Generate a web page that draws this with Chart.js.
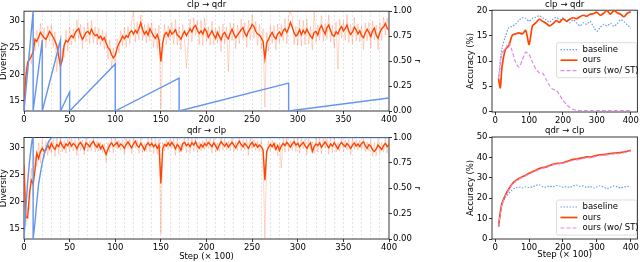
<!DOCTYPE html>
<html>
<head>
<meta charset="utf-8">
<script src="https://cdn.jsdelivr.net/npm/chart.js@4.4.1/dist/chart.umd.min.js"></script>
<style>
  html, body { margin: 0; padding: 0; background: #fff; width: 640px; height: 262px; overflow: hidden; }
  canvas { position: absolute; }
</style>
</head>
<body>
<canvas id="divTop" width="430" height="126" style="left:0;top:0"></canvas>
<canvas id="divBot" width="430" height="136" style="left:0;top:126px"></canvas>
<canvas id="accTop" width="180" height="126" style="left:460px;top:0"></canvas>
<canvas id="accBot" width="180" height="136" style="left:460px;top:126px"></canvas>
<script>
// diversity curves, one value every 2 steps (x 100)
const divSteps = Array.from({ length: 201 }, (_, i) => i * 2);

const divTopLine = [
  14.3, 19.5, 22.3, 22.8, 23.4, 24.2, 26.6, 26.2, 27.0, 27.9,
  27.4, 26.9, 26.6, 27.3, 28.1, 27.6, 27.0, 26.3, 25.4, 23.4,
  21.6, 22.8, 25.5, 26.4, 26.1, 26.8, 27.3, 26.9, 27.8, 28.3,
  28.6, 27.4, 26.6, 27.2, 27.9, 28.1, 27.6, 28.5, 27.7, 27.3,
  27.5, 26.8, 27.2, 26.5, 26.9, 25.9, 25.1, 24.6, 23.7, 23.1,
  23.6, 24.9, 25.8, 26.4, 27.2, 26.7, 27.3, 27.0, 27.9, 28.2,
  27.6, 28.3, 27.8, 28.7, 29.7, 28.4, 27.6, 28.1, 27.4, 28.6,
  27.9, 27.2, 26.8, 27.5, 26.4, 22.4, 26.0, 27.5, 27.9, 27.2,
  28.3, 27.6, 27.9, 28.4, 27.4, 27.1, 26.6, 27.5, 28.1, 27.3,
  27.9, 28.6, 28.0, 28.9, 29.2, 28.3, 27.7, 28.2, 27.6, 28.6,
  28.1, 27.0, 27.6, 28.2, 27.4, 26.8, 27.9, 27.2, 26.5, 27.6,
  27.9, 27.1, 26.7, 27.8, 28.5, 27.6, 26.9, 27.4, 27.9, 28.4,
  28.8, 27.7, 27.2, 28.1, 28.6, 29.4, 29.0, 28.1, 27.6, 27.4,
  26.9, 26.2, 23.0, 25.9, 26.6, 27.4, 27.9, 27.1, 26.7, 27.6,
  28.0, 27.3, 28.2, 28.6, 27.9, 28.7, 29.8, 28.9, 27.8, 27.2,
  27.6, 28.4, 27.5, 28.3, 27.7, 28.5, 27.8, 27.2, 26.8, 27.9,
  28.1, 27.4, 28.6, 29.2, 28.3, 27.6, 28.8, 29.3, 28.2, 27.4,
  27.2, 28.0, 27.6, 28.5, 29.0, 28.2, 28.6, 29.3, 28.1, 27.5,
  28.0, 28.9, 28.4, 27.6, 28.2, 27.3, 26.9, 27.8, 28.5, 27.9,
  27.1, 28.2, 28.7, 27.4, 26.8, 27.9, 28.6, 28.9, 29.6, 28.7,
  28.3
];
const divTopRaw = [
  13.5, 21.5, 20.8, 24.6, 21.9, 25.8, 24.4, 28.3, 25.2, 29.6,
  25.6, 28.7, 24.9, 29.1, 26.2, 29.3, 25.1, 28.0, 20.5, 25.8,
  18.6, 24.9, 23.2, 28.3, 24.4, 28.9, 25.5, 28.6, 26.1, 30.2,
  26.7, 29.4, 24.8, 28.9, 26.1, 29.8, 25.8, 30.1, 25.9, 29.0,
  25.6, 28.7, 25.4, 28.3, 24.7, 27.8, 22.9, 26.5, 21.2, 25.0,
  20.8, 26.7, 24.0, 28.2, 25.4, 28.9, 25.1, 29.0, 25.8, 30.1,
  31.9, 26.1, 29.9, 26.5, 31.2, 26.4, 29.4, 25.9, 29.6, 26.3,
  29.8, 25.1, 28.7, 24.8, 29.3, 13.5, 24.0, 29.4, 25.6, 29.1,
  26.4, 29.8, 25.7, 30.3, 25.5, 29.0, 24.6, 29.4, 26.0, 21.2,
  26.0, 30.4, 26.1, 30.7, 27.3, 30.1, 25.6, 30.2, 25.4, 30.6,
  26.2, 29.0, 25.5, 30.0, 25.6, 28.7, 25.9, 29.1, 24.3, 29.5,
  25.8, 29.0, 20.6, 29.7, 26.4, 29.6, 24.8, 29.3, 25.8, 30.4,
  26.6, 29.8, 25.1, 30.2, 26.5, 31.3, 26.8, 30.0, 25.5, 29.4,
  24.8, 28.6, 13.8, 27.9, 24.4, 29.3, 25.8, 29.2, 24.6, 29.5,
  25.9, 29.4, 26.3, 30.5, 25.8, 30.8, 31.8, 30.9, 25.6, 29.1,
  25.4, 30.3, 25.3, 30.2, 25.6, 30.4, 25.7, 29.1, 24.6, 31.9,
  26.0, 29.3, 26.4, 31.1, 26.2, 29.5, 26.6, 31.2, 26.1, 29.3,
  25.0, 29.9, 21.0, 30.4, 26.9, 30.1, 26.4, 31.3, 26.0, 29.4,
  25.8, 30.8, 26.3, 29.5, 26.1, 29.2, 24.7, 29.7, 26.3, 29.8,
  24.9, 30.1, 26.5, 29.3, 24.6, 29.8, 26.4, 30.8, 27.4, 30.6,
  26.9
];
const divBotLine = [
  26.9, 17.2, 17.0, 21.5, 24.0, 23.3, 25.8, 29.0, 28.0, 29.3,
  29.9, 29.4, 29.6, 30.5, 29.8, 30.8, 30.1, 29.7, 30.6, 30.2,
  31.1, 30.4, 29.9, 30.7, 30.4, 31.0, 30.3, 30.8, 30.5, 29.8,
  30.6, 31.0, 30.4, 29.7, 30.9, 30.6, 30.2, 30.8, 31.2, 30.5,
  30.1, 30.7, 29.8, 30.4, 29.6, 28.8, 29.7, 30.5, 30.9, 30.3,
  30.6, 31.0, 30.2, 30.7, 30.4, 29.9, 30.6, 31.1, 30.5, 30.0,
  30.7, 31.2, 30.4, 30.1, 30.8, 30.3, 29.6, 30.5, 30.9, 30.4,
  30.8, 30.2, 30.6, 29.9, 30.5, 23.4, 29.8, 30.6, 30.3, 30.9,
  30.4, 31.0, 30.5, 29.8, 30.6, 30.2, 29.5, 30.8, 31.0, 30.4,
  30.7, 30.2, 30.9, 30.5, 31.1, 30.3, 29.9, 30.6, 30.1, 30.8,
  30.4, 31.0, 30.6, 30.2, 30.9, 30.4, 29.7, 30.5, 31.1, 30.7,
  30.3, 30.8, 30.1, 30.6, 31.0, 30.5, 30.0, 30.7, 31.2, 30.6,
  30.2, 30.8, 30.4, 29.9, 30.6, 31.0, 30.3, 30.7, 30.1, 30.5,
  30.2, 29.6, 24.0, 29.3, 30.1, 30.6, 30.2, 30.8, 29.7, 30.4,
  29.5, 30.3, 30.8, 30.4, 31.0, 30.6, 30.1, 30.7, 31.1, 30.5,
  30.8, 30.2, 30.6, 31.0, 30.4, 29.9, 30.5, 30.9, 29.3, 30.2,
  30.7, 30.4, 30.9, 30.1, 30.6, 31.1, 30.5, 30.0, 30.7, 30.3,
  30.9, 30.4, 29.8, 30.6, 31.0, 30.5, 30.2, 30.8, 30.4, 29.9,
  30.5, 30.9, 30.3, 30.7, 30.2, 30.8, 31.1, 30.4, 29.9, 30.6,
  30.3, 29.6, 29.3, 29.8, 30.5, 30.1, 29.7, 30.4, 30.8, 30.2,
  30.6
];
const divBotRaw = [
  27.8, 15.5, 19.0, 18.6, 26.2, 21.0, 28.4, 26.5, 30.9, 27.2,
  31.4, 28.0, 31.2, 28.6, 31.5, 29.0, 31.6, 28.4, 31.8, 28.9,
  31.9, 29.2, 31.3, 29.0, 31.6, 29.3, 31.7, 29.4, 31.5, 28.6,
  31.8, 29.5, 31.4, 28.7, 31.8, 29.4, 31.3, 29.5, 31.9, 29.2,
  31.3, 29.4, 31.0, 29.1, 30.8, 27.3, 30.9, 29.2, 31.8, 29.1,
  31.7, 29.8, 31.4, 29.5, 31.5, 28.8, 31.7, 29.9, 31.6, 28.9,
  31.8, 30.0, 31.5, 29.0, 31.9, 29.1, 30.8, 29.3, 31.9, 29.2,
  31.9, 29.0, 31.7, 28.8, 31.6, 14.0, 31.0, 29.4, 31.5, 29.7,
  31.6, 29.8, 31.7, 28.6, 31.8, 29.0, 30.7, 29.6, 31.9, 29.1,
  31.8, 29.0, 31.9, 29.3, 31.9, 29.1, 31.1, 29.4, 31.3, 29.6,
  31.6, 29.8, 31.8, 29.0, 31.9, 29.2, 30.9, 29.3, 31.9, 29.5,
  31.5, 29.6, 31.2, 29.4, 31.9, 29.3, 31.1, 29.5, 31.9, 29.4,
  31.4, 29.6, 31.6, 28.7, 31.8, 29.8, 31.5, 29.5, 31.3, 29.3,
  31.4, 28.4, 13.2, 28.2, 31.3, 29.4, 31.4, 29.6, 31.0, 28.6,
  30.8, 26.2, 31.9, 29.2, 31.9, 29.4, 31.3, 29.5, 31.9, 29.3,
  31.9, 29.0, 31.8, 29.8, 31.6, 28.7, 31.7, 29.7, 31.1, 28.9,
  31.9, 29.2, 31.9, 28.9, 31.8, 29.9, 31.7, 28.8, 31.9, 29.1,
  31.9, 29.2, 31.0, 29.4, 31.9, 29.3, 31.4, 29.6, 31.6, 28.7,
  31.7, 29.7, 31.5, 29.5, 31.4, 29.6, 31.9, 29.2, 31.1, 29.4,
  31.5, 28.4, 30.9, 28.5, 31.7, 28.9, 31.0, 29.2, 31.9, 29.0,
  31.4
];

// r schedule (right axis)
const rTopSteps = [0, 10, 10, 20, 20, 40, 40, 50, 50, 100, 100, 170, 170, 290, 290, 400];
const rTopValues = [0, 1, 0, 0.71, 0, 0.71, 0, 0.19, 0, 0.47, 0, 0.33, 0, 0.28, 0, 0.13];
const rBotSteps = [0, 2, 4, 6, 8, 9, 10, 10, 12, 14, 16, 18, 20, 22, 24, 27, 30, 400];
const rBotValues = [0, 0.3, 0.56, 0.76, 0.92, 0.98, 1, 0, 0.16, 0.36, 0.54, 0.65, 0.75, 0.83, 0.89, 0.96, 1, 1];

// accuracy curves
const accSteps = [10, 15, 20, 30, 40, 50, 60, 70, 80, 90, 100, 110, 120, 130, 140, 150, 160, 170, 180, 190, 200,
  210, 220, 230, 240, 250, 260, 270, 280, 290, 300, 310, 320, 330, 340, 350, 360, 370, 380, 390, 400];
const accTopBaseline = [6.5, 10.2, 12.6, 14.9, 16.6, 16.9, 17.3, 18.1, 18.6, 18.5, 17.9, 18.5, 18.7, 19.0, 18.6, 18.2,
  17.7, 18.3, 18.7, 18.2, 18.6, 18.0, 17.6, 18.2, 17.6, 17.0, 17.6, 17.3, 17.9, 16.8, 15.9, 16.7, 17.3, 17.0, 17.5,
  16.9, 17.4, 18.2, 17.8, 17.2, 16.5];
const accTopOurs = [6.5, 4.7, 8.8, 12.3, 13.0, 15.1, 15.4, 15.6, 15.4, 16.1, 13.3, 17.0, 17.6, 18.3, 17.9, 17.5,
  17.0, 17.4, 18.0, 17.7, 18.4, 17.9, 18.3, 18.6, 18.4, 18.8, 19.1, 18.9, 19.3, 19.4, 19.7, 19.1, 19.5, 20.0, 19.3,
  20.0, 19.6, 19.3, 18.8, 19.5, 19.8];
const accTopNoST = [6.8, 9.0, 11.6, 12.4, 13.6, 12.0, 9.8, 8.8, 10.2, 11.8, 11.3, 9.8, 8.4, 7.7, 7.6, 6.4, 5.2, 4.4,
  4.2, 3.3, 2.2, 1.4, 0.8, 0.4, 0.25, 0.2, 0.2, 0.2, 0.2, 0.2, 0.2, 0.2, 0.2, 0.2, 0.2, 0.2, 0.2, 0.2, 0.2, 0.2, 0.2];
const accBotBaseline = [6.0, 12.4, 16.8, 20.3, 22.4, 24.1, 25.0, 25.5, 25.0, 25.6, 25.2, 25.6, 26.3, 26.6, 25.7, 25.4,
  26.0, 25.6, 26.1, 26.0, 25.3, 25.7, 25.3, 26.0, 26.4, 25.8, 26.0, 25.3, 25.8, 25.0, 25.6, 26.1, 25.4, 24.8, 25.3,
  26.0, 25.6, 25.0, 25.5, 25.8, 25.6];
const accBotOurs = [6.2, 13.0, 17.5, 21.5, 24.5, 27.0, 28.6, 29.7, 30.5, 31.3, 32.2, 33.0, 33.7, 34.5, 35.0, 35.3,
  36.0, 36.6, 37.0, 37.1, 37.4, 38.0, 38.5, 39.0, 39.2, 39.5, 39.9, 40.3, 40.2, 40.5, 41.0, 41.3, 41.4, 41.6, 41.9,
  42.1, 42.2, 42.4, 42.6, 43.0, 43.5];
const accBotNoST = [6.0, 12.6, 17.0, 21.0, 24.0, 26.6, 28.2, 29.4, 30.2, 31.0, 31.8, 32.6, 33.3, 34.1, 34.7, 35.0,
  35.7, 36.3, 36.7, 36.9, 37.1, 37.6, 38.1, 38.6, 38.8, 39.1, 39.5, 39.9, 39.8, 40.1, 40.6, 40.9, 41.0, 41.2, 41.5,
  41.7, 41.8, 42.0, 42.3, 42.7, 43.2];

// tick labels
const stepTicks = [0, 50, 100, 150, 200, 250, 300, 350, 400];
const markSteps = [10, 20, 30, 40, 60, 70, 80, 90, 110, 120, 130, 140, 160, 170, 180, 190, 210, 220, 230, 240,
  260, 270, 280, 290, 310, 320, 330, 340, 360, 370, 380, 390, 50, 100, 150, 200, 250, 300, 350];
const divTicks = [15, 20, 25, 30];
const rTicks = [0, 0.25, 0.5, 0.75, 1];
const accStepTicks = [0, 100, 200, 300, 400];
const accTopTicks = [0, 5, 10, 15, 20];
const accBotTicks = [0, 10, 20, 30, 40, 50];

Chart.defaults.font.family = '"DejaVu Sans", sans-serif';
Chart.defaults.font.size = 8.5;
Chart.defaults.color = '#000';

const pts = (xs, ys) => xs.map((x, i) => ({ x: x, y: ys[i] }));
const fixTicks = list => s => { s.ticks = list.map(v => ({ value: v })); };
const tickMarks = { display: true, drawOnChartArea: false, drawTicks: true, tickLength: 3, tickColor: '#000', tickWidth: 0.8 };

const frame = {
  id: 'frame',
  beforeDatasetsDraw(chart) {
    const { ctx, chartArea: a } = chart;
    ctx.save();
    ctx.strokeStyle = '#222';
    ctx.lineWidth = 0.9;
    ctx.strokeRect(a.left, a.top, a.right - a.left, a.bottom - a.top);
    ctx.restore();
  }
};

const boxLegend = {
  id: 'boxLegend',
  afterDraw(chart, args, opts) {
    const { ctx, chartArea: a } = chart;
    const x = a.left + opts.left, y = a.top + opts.top;
    ctx.save();
    ctx.fillStyle = 'rgba(255,255,255,0.85)';
    ctx.strokeStyle = '#d4d4d4';
    ctx.lineWidth = 0.8;
    ctx.beginPath();
    ctx.roundRect(x, y, 80, 35, 2);
    ctx.fill();
    ctx.stroke();
    ctx.font = '8.5px "DejaVu Sans"';
    ctx.textBaseline = 'middle';
    chart.data.datasets.forEach((ds, i) => {
      const ly = y + 7 + i * 10.5;
      ctx.strokeStyle = ds.borderColor;
      ctx.lineWidth = ds.borderWidth;
      ctx.setLineDash(ds.borderDash || []);
      ctx.beginPath();
      ctx.moveTo(x + 4, ly);
      ctx.lineTo(x + 21, ly);
      ctx.stroke();
      ctx.setLineDash([]);
      ctx.fillStyle = '#000';
      ctx.fillText(ds.label, x + 26, ly);
    });
    ctx.restore();
  }
};

function diversityChart(id, title, line, raw, rSteps, rValues, xHeight, showStepTitle, titlePad) {
  new Chart(document.getElementById(id), {
    type: 'line',
    data: {
      datasets: [
        { data: pts(rSteps, rValues), xAxisID: 'x', yAxisID: 'y2', borderColor: '#6495ed', borderWidth: 1.4, pointRadius: 0, tension: 0 },
        { data: pts(divSteps, line), xAxisID: 'x', yAxisID: 'y', borderColor: '#ff4500', borderWidth: 1.4, pointRadius: 0, tension: 0 },
        { data: pts(divSteps, raw), xAxisID: 'x', yAxisID: 'y', borderColor: 'rgba(255,69,0,0.22)', borderWidth: 1, pointRadius: 0, tension: 0 }
      ]
    },
    options: {
      responsive: false, animation: false, events: [], devicePixelRatio: 1,
      layout: { padding: 0 },
      plugins: {
        legend: { display: false }, tooltip: { enabled: false },
        title: { display: true, text: title, fullSize: false, font: { size: 8.5, weight: 'normal' }, padding: { top: 0, bottom: titlePad } }
      },
      scales: {
        x: {
          type: 'linear', position: 'bottom', min: 0, max: 400,
          afterBuildTicks: fixTicks(stepTicks), afterFit: s => { s.height = xHeight; },
          grid: tickMarks, border: { display: false },
          ticks: { padding: 1, maxRotation: 0, autoSkip: false },
          title: { display: showStepTitle, text: 'Step (× 100)', padding: { top: 0, bottom: 0 } }
        },
        xg: {
          type: 'linear', position: 'top', min: 0, max: 400,
          afterBuildTicks: fixTicks(markSteps), afterFit: s => { s.height = 0; },
          ticks: { display: false },
          grid: { drawOnChartArea: true, drawTicks: false, color: 'rgba(150,150,150,0.35)', lineWidth: 0.8 },
          border: { display: false, dash: [2, 2] }
        },
        y: {
          type: 'linear', position: 'left', min: 13.1, max: 31.9,
          afterBuildTicks: fixTicks(divTicks), afterFit: s => { s.width = 24; },
          grid: tickMarks, border: { display: false },
          ticks: { padding: 1 },
          title: { display: true, text: 'Diversity', padding: { top: -1, bottom: 0 } }
        },
        y2: {
          type: 'linear', position: 'right', min: 0, max: 1,
          afterBuildTicks: fixTicks(rTicks), afterFit: s => { s.width = 41; },
          grid: tickMarks, border: { display: false },
          ticks: { padding: 1, callback: v => v.toFixed(2) },
          title: { display: true, text: 'r', padding: { top: 8, bottom: 0 } }
        }
      }
    },
    plugins: [frame]
  });
}

function accuracyChart(id, title, baseline, ours, noST, yMin, yMax, yTicks, xHeight, showStepTitle, titlePad, legendTop) {
  new Chart(document.getElementById(id), {
    type: 'line',
    data: {
      datasets: [
        { label: 'baseline', data: pts(accSteps, baseline), borderColor: '#6f9cf0', borderWidth: 1.2, borderDash: [1.5, 1.5], pointRadius: 0, tension: 0.25, order: 2 },
        { label: 'ours', data: pts(accSteps, ours), borderColor: '#ff4500', borderWidth: 1.7, pointRadius: 0, tension: 0.25, order: 1 },
        { label: 'ours (wo/ ST)', data: pts(accSteps, noST), borderColor: '#e08ae8', borderWidth: 1.2, borderDash: [4, 2], pointRadius: 0, tension: 0.25, order: 0 }
      ]
    },
    options: {
      responsive: false, animation: false, events: [], devicePixelRatio: 1,
      layout: { padding: { right: 1 } },
      plugins: {
        legend: { display: false }, tooltip: { enabled: false },
        title: { display: true, text: title, fullSize: false, font: { size: 8.5, weight: 'normal' }, padding: { top: 0, bottom: titlePad } },
        boxLegend: { left: 64.5, top: legendTop }
      },
      scales: {
        x: {
          type: 'linear', min: -9.5, max: 419.5,
          afterBuildTicks: fixTicks(accStepTicks), afterFit: s => { s.height = xHeight; },
          grid: tickMarks, border: { display: false },
          ticks: { padding: 1, maxRotation: 0, autoSkip: false },
          title: { display: showStepTitle, text: 'Step (× 100)', padding: { top: 0, bottom: 2 } }
        },
        y: {
          type: 'linear', min: yMin, max: yMax,
          afterBuildTicks: fixTicks(yTicks), afterFit: s => { s.width = 32; },
          grid: tickMarks, border: { display: false },
          ticks: { padding: 1.5 },
          title: { display: true, text: 'Accuracy (%)', padding: { top: 6, bottom: 0 } }
        }
      }
    },
    plugins: [frame, boxLegend]
  });
}

diversityChart('divTop', 'clp → qdr', divTopLine, divTopRaw, rTopSteps, rTopValues, 15, false, 1);
diversityChart('divBot', 'qdr → clp', divBotLine, divBotRaw, rBotSteps, rBotValues, 23, true, 1.3);
accuracyChart('accTop', 'clp → qdr', accTopBaseline, accTopOurs, accTopNoST, -0.1, 20.1, accTopTicks, 14, false, 0, 32.5);
accuracyChart('accBot', 'qdr → clp', accBotBaseline, accBotOurs, accBotNoST, 0, 50, accBotTicks, 23, true, 0.8, 63);
</script>
</body>
</html>
